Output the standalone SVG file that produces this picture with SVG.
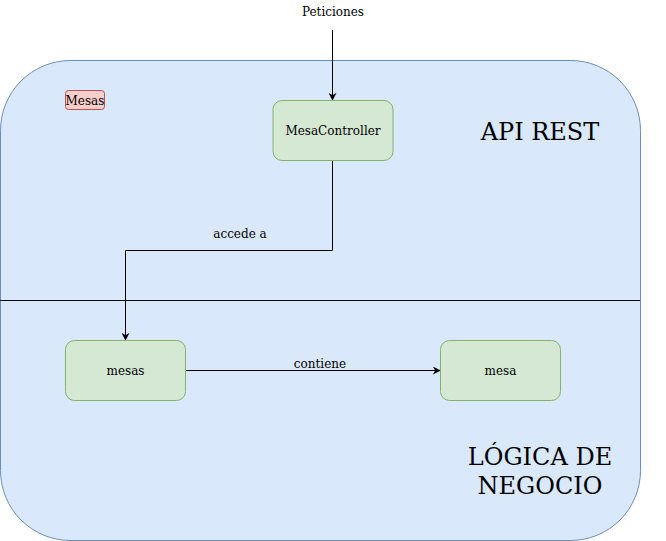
<svg xmlns="http://www.w3.org/2000/svg" width="666" height="541" viewBox="0 0 666 541">
<style>
text{font-family:"DejaVu Serif",serif;fill:#000;}
.s{font-size:12px;}
.big{font-size:24px;}
.node{fill:#d5e8d4;stroke:#82b366;stroke-width:1;}
.edge{fill:none;stroke:#000;stroke-width:1;}
</style>
<defs>
<marker id="arr" viewBox="0 0 10 10" refX="9" refY="5" markerWidth="8" markerHeight="8" orient="auto" markerUnits="userSpaceOnUse">
<path d="M0,0 L10,5 L0,10 L3,5 Z" fill="#000"/>
</marker>
</defs>
<g id="container">
<rect x="0.5" y="60.5" width="640" height="480" rx="70" ry="70" fill="#dae8fc" stroke="#6c8ebf"/>
<line x1="0" y1="300.5" x2="640" y2="300.5" stroke="#000"/>
<text class="big" x="540" y="140" text-anchor="middle">API REST</text>
<text class="big" x="540" y="465" text-anchor="middle">LÓGICA DE</text>
<text class="big" x="540" y="494" text-anchor="middle">NEGOCIO</text>
</g>
<g id="label-mesas">
<rect x="65.5" y="90.5" width="39" height="19" rx="3" fill="#f8cecc" stroke="#b85450"/>
<text class="s" x="85" y="105" text-anchor="middle">Mesas</text>
</g>
<g id="peticiones">
<text class="s" x="333" y="16" text-anchor="middle">Peticiones</text>
</g>
<g id="connectors">
<path class="edge" d="M332.5,30 L332.5,100" marker-end="url(#arr)"/>
<path class="edge" d="M332.5,160 L332.5,250.5 L125.5,250.5 L125.5,340" marker-end="url(#arr)"/>
<text class="s" x="240" y="238" text-anchor="middle">accede a</text>
<path class="edge" d="M185,370.5 L440,370.5" marker-end="url(#arr)"/>
<text class="s" x="320" y="368" text-anchor="middle">contiene</text>
</g>
<g id="MesaController">
<rect class="node" x="273" y="100.5" width="120" height="60" rx="9"/>
<text class="s" x="333" y="135" text-anchor="middle">MesaController</text>
</g>
<g id="mesas">
<rect class="node" x="65.5" y="340.5" width="120" height="60" rx="9"/>
<text class="s" x="125.5" y="375" text-anchor="middle">mesas</text>
</g>
<g id="mesa">
<rect class="node" x="440.5" y="340.5" width="120" height="60" rx="9"/>
<text class="s" x="500.5" y="375" text-anchor="middle">mesa</text>
</g>
</svg>
